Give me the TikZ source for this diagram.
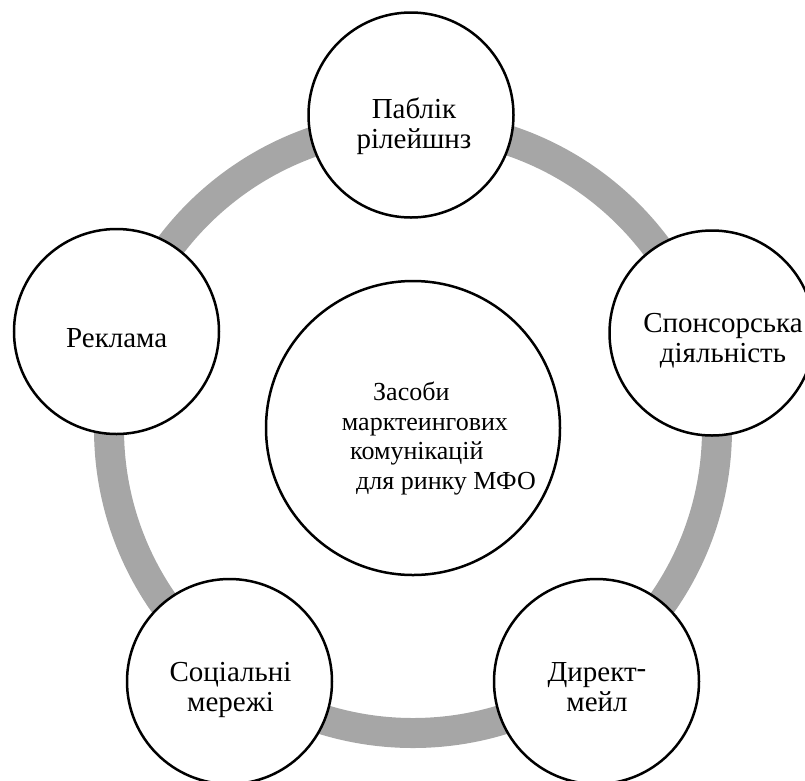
\documentclass[tikz,border=0pt]{standalone}
\usepackage{fontspec}
\setmainfont{Liberation Serif}
\definecolor{ringgray}{RGB}{166,166,166}
\begin{document}
\begin{tikzpicture}[x=1pt,y=-1pt,
  outer/.style={circle,draw=black,line width=2.5pt,fill=white,minimum size=205pt,inner sep=0pt},
  hub/.style={circle,draw=black,line width=2.5pt,fill=white,minimum size=294pt,inner sep=0pt},
  lbl/.style={font=\fontsize{29}{30}\selectfont,align=center,inner sep=0pt,anchor=base}]
\useasboundingbox (0,0) rectangle (805,780);
\clip (0,0) rectangle (805,780);
% grey ring linking the five tools
\node[circle,draw=ringgray,line width=30pt,minimum size=608pt,inner sep=0pt] (ring) at (413,429) {};
% central circle
\node[hub] (hubc) at (413,428) {};
% outer circles
\node[outer] (pr) at (411,115) {};
\node[outer] (sp) at (712,333) {};
\node[outer] (rk) at (116.5,331.5) {};
\node[outer] (sm) at (229.5,681.5) {};
\node[outer] (dm) at (596.5,681.5) {};
% labels (base anchor sits on the last line)
\node[lbl,align=left,anchor=base west,font=\fontsize{26}{29.5}\selectfont] (hubt) at (341.7,489.2)
  {\hspace*{31.3pt}Засоби\\марктеингових\\\hspace*{8.3pt}комунікацій\\\hspace*{14.3pt}для ринку МФО};
\node[lbl] (prt) at (414,148.3) {Паблік\\рілейшнз};
\node[lbl] (spt) at (723,362) {Спонсорська\\діяльність};
\node[lbl] (rkt) at (116.7,347.7) {Реклама};
\node[lbl] (smt) at (230.5,711.7) {Соціальні\\мережі};
\node[lbl] (dmt) at (597,711.7) {Директ\raisebox{4pt}{-}\\мейл};
\end{tikzpicture}
\end{document}
